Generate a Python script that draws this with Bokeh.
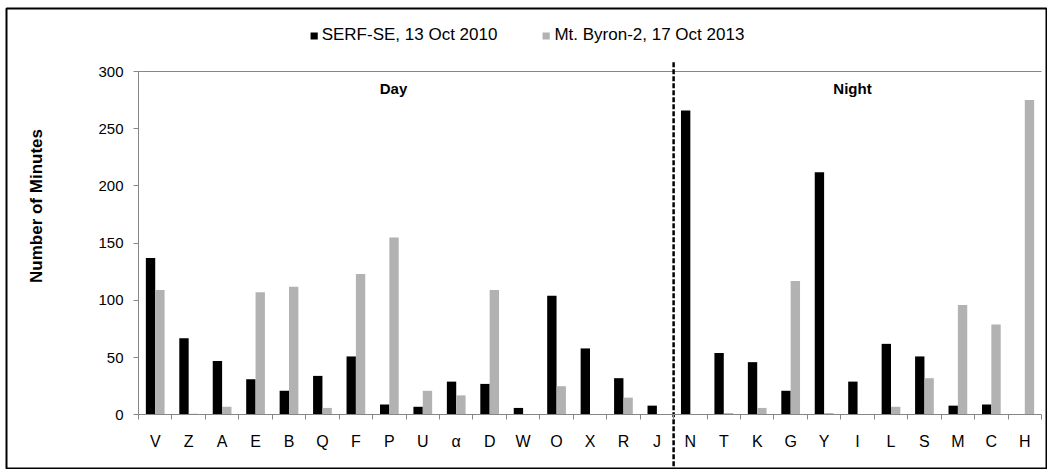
import math
from bokeh.plotting import figure
from bokeh.models import (LinearAxis, FixedTicker, Range1d, Label, Legend, LegendItem,
                          CustomJSTickFormatter, ColumnDataSource)
from bokeh.embed import file_html
from bokeh.resources import INLINE

categories = ["V", "Z", "A", "E", "B", "Q", "F", "P", "U", "α", "D", "W", "O", "X", "R", "J",
              "N", "T", "K", "G", "Y", "I", "L", "S", "M", "C", "H"]
serf_se = [137, 67, 47, 31, 21, 34, 51, 9, 7, 29, 27, 6, 104, 58, 32, 8,
           266, 54, 46, 21, 212, 29, 62, 51, 8, 9, 0]
mt_byron = [109, 1, 7, 107, 112, 6, 123, 155, 21, 17, 109, 0.5, 25, 0.5, 15, 0,
            0.5, 1.5, 6, 117, 1.5, 0.5, 7, 32, 96, 79, 275]
series_names = ["SERF-SE, 13 Oct 2010", "Mt. Byron-2, 17 Oct 2013"]
y_ticks = [0, 50, 100, 150, 200, 250, 300]
period_labels = ["Day", "Night"]
n_day = 16

FONT = "Liberation Sans"
AXIS_GREY = "#868686"
BAR_GREY = "#b2b2b2"

W, H = 1047, 469
BL, BT = 6, 8                 # frame offset (outer black frame)
FW, FH = W - BL, H - BT       # frame size
n = len(categories)
unit = (1041 - 138) / n
x0_px = 138 - BL
y0_px = 414.3 - BT
ppu = 343.3 / 300

x_range = Range1d(-x0_px / unit, (FW - x0_px) / unit)
y_range = Range1d(-(FH - y0_px) / ppu, y0_px / ppu)

p = figure(width=W, height=H, x_range=x_range, y_range=y_range,
           x_axis_type=None, y_axis_type=None, toolbar_location=None,
           output_backend="svg", min_border=0)
p.min_border_left = BL
p.min_border_top = BT
p.min_border_right = 0
p.min_border_bottom = 0
p.xgrid.visible = False
p.ygrid.visible = False
p.outline_line_color = "black"
p.outline_line_width = 2
p.background_fill_color = "white"
p.border_fill_color = "white"

centers = [i + 0.5 for i in range(n)]
src = ColumnDataSource(dict(
    cat=categories,
    xb=[c - 0.14 for c in centers],
    xg=[c + 0.14 for c in centers],
    serf=serf_se,
    byron=mt_byron,
))

# top reference line at max tick
p.segment(x0=[0], y0=[y_ticks[-1]], x1=[n], y1=[y_ticks[-1]],
          line_color=AXIS_GREY, line_width=1)

r1 = p.vbar(x="xb", top="serf", width=0.28, bottom=0, source=src,
            fill_color="black", line_color=None)
r2 = p.vbar(x="xg", top="byron", width=0.28, bottom=0, source=src,
            fill_color=BAR_GREY, line_color=None)

# Day / Night separator
p.segment(x0=[n_day], y0=[308], x1=[n_day], y1=[-80],
          line_color="black", line_width=2.5, line_dash="5 2")

# y axis
yax = LinearAxis(fixed_location=0, bounds=(y_ticks[0], y_ticks[-1]),
                 ticker=FixedTicker(ticks=y_ticks))
yax.axis_line_color = AXIS_GREY
yax.major_tick_line_color = AXIS_GREY
yax.major_tick_out = 5
yax.major_tick_in = 0
yax.minor_tick_line_color = None
yax.major_label_standoff = 10
yax.major_label_text_font = FONT
yax.major_label_text_font_size = "15px"
yax.major_label_text_color = "black"
p.add_layout(yax, "left")

# x axis
xax = LinearAxis(fixed_location=0, bounds=(0, n),
                 ticker=FixedTicker(ticks=centers, minor_ticks=list(range(n + 1))),
                 formatter=CustomJSTickFormatter(args=dict(cats=categories),
                                                 code="return cats[Math.round(tick - 0.5)];"))
xax.axis_line_color = AXIS_GREY
xax.major_tick_line_color = None
xax.major_tick_out = 0
xax.major_tick_in = 0
xax.minor_tick_line_color = AXIS_GREY
xax.minor_tick_out = 5
xax.minor_tick_in = 0
xax.major_label_standoff = 13
xax.major_label_text_font = FONT
xax.major_label_text_font_size = "16px"
xax.major_label_text_color = "black"
p.add_layout(xax, "below")

# y axis title
p.add_layout(Label(x=(36 - 138) / unit, y=(414.3 - 205.5) / ppu, text="Number of Minutes",
                   angle=math.pi / 2, text_align="center", text_baseline="middle",
                   text_font=FONT, text_font_size="17px", text_font_style="bold",
                   text_color="black"))

# period labels
p.add_layout(Label(x=(393 - 138) / unit, y=285, text=period_labels[0], text_align="center",
                   text_baseline="middle", text_font=FONT, text_font_size="15px",
                   text_font_style="bold", text_color="black"))
p.add_layout(Label(x=(852 - 138) / unit, y=285, text=period_labels[1], text_align="center",
                   text_baseline="middle", text_font=FONT, text_font_size="15px",
                   text_font_style="bold", text_color="black"))

legend = Legend(items=[LegendItem(label=series_names[0], renderers=[r1]),
                       LegendItem(label=series_names[1], renderers=[r2])],
                orientation="horizontal", location="top_center",
                border_line_color=None, background_fill_alpha=0,
                glyph_width=9, glyph_height=9, label_standoff=4, spacing=44,
                padding=0, margin=17,
                label_text_font=FONT, label_text_font_size="17px",
                label_text_color="black")
p.add_layout(legend, "center")

open("out.html", "w").write(file_html(p, INLINE))
